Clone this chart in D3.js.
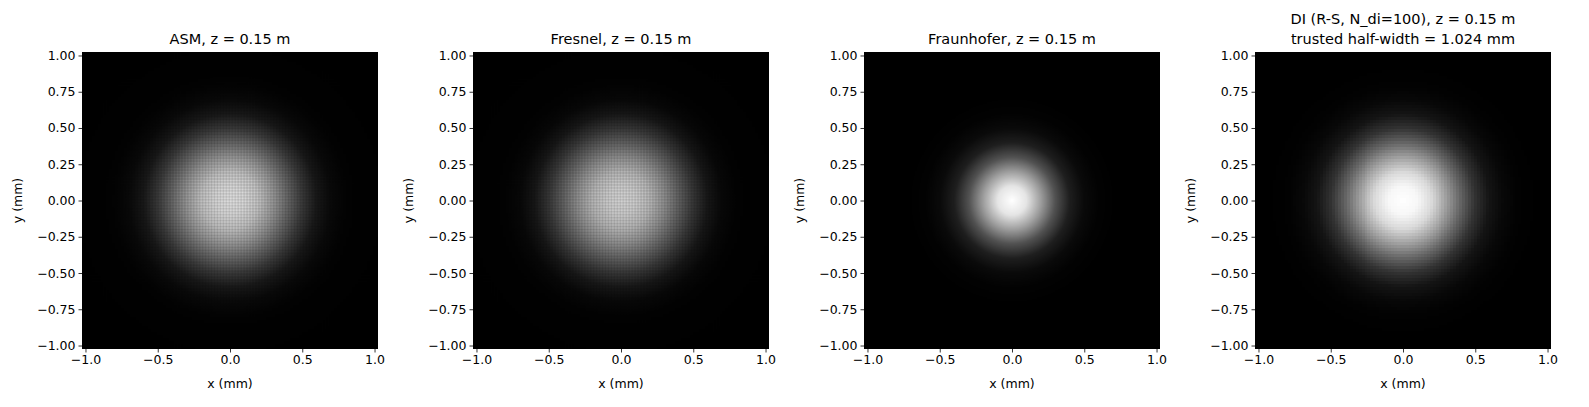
<!DOCTYPE html>
<html><head><meta charset="utf-8">
<script src="https://cdn.jsdelivr.net/npm/d3@7"></script>
<style>html,body{margin:0;background:#fff;overflow:hidden}text{font-family:"DejaVu Sans",sans-serif;fill:#000}</style>
</head><body><svg id="c" width="1589" height="407" style="display:block"></svg>
<script>
const titles = [["ASM, z = 0.15 m"],["Fresnel, z = 0.15 m"],["Fraunhofer, z = 0.15 m"],["DI (R-S, N_di=100), z = 0.15 m","trusted half-width = 1.024 mm"]];
const profileR = [0,0.1,0.2,0.3,0.4,0.5,0.6,0.7,0.8,0.9,1.5];
const profileASM = [0.80,0.77,0.69,0.54,0.37,0.21,0.09,0.035,0.012,0.003,0];
const profileFresnel = [0.76,0.73,0.65,0.51,0.35,0.2,0.085,0.03,0.01,0.003,0];
const profileFraun = [1,0.9,0.62,0.32,0.12,0.04,0.01,0.002,0,0,0];
const profileDI = [1,0.97,0.85,0.63,0.40,0.20,0.08,0.03,0.008,0.002,0];
const profiles = [profileASM, profileFresnel, profileFraun, profileDI];
const gridN = [200, 200, 256, 100];
const textureAmp = [0.22, 0.22, 0, 0];
const halfWidth = 1.024;
const xTicks = [-1.0,-0.5,0.0,0.5,1.0];
const yTicks = [-1.0,-0.75,-0.5,-0.25,0,0.25,0.5,0.75,1.0];

(function(){
const svg = d3.select("#c");
const lefts = [82,473,864,1255], T = 52, W = 296, H = 297;
lefts.forEach((L,i)=>{
  const x = d3.scaleLinear().domain([-halfWidth,halfWidth]).range([L,L+W]);
  const y = d3.scaleLinear().domain([-halfWidth,halfWidth]).range([T+H,T]);
  const prof = d3.scaleLinear().domain(profileR).range(profiles[i]).clamp(true);
  const N = gridN[i];
  const cv = document.createElement("canvas"); cv.width=N; cv.height=N;
  const ctx = cv.getContext("2d"); const img = ctx.createImageData(N,N);
  const cell = d3.scaleLinear().domain([0,N-1]).range([-halfWidth,halfWidth]);
  for(let r=0;r<N;r++)for(let c=0;c<N;c++){
    const xv=cell(c), yv=cell(r);
    let v = prof(Math.hypot(xv,yv));
    if(textureAmp[i]>0){ const m=((r%2)+(c%2)); v*= (1 - textureAmp[i]*m/2); v/=(1-textureAmp[i]/2);}
    v=Math.max(0,Math.min(1,v));
    const k=(r*N+c)*4, g=Math.round(v*255);
    img.data[k]=img.data[k+1]=img.data[k+2]=g; img.data[k+3]=255;
  }
  ctx.putImageData(img,0,0);
  svg.append("image").attr("href",cv.toDataURL()).attr("x",x(-halfWidth)).attr("y",y(halfWidth))
    .attr("width",W).attr("height",H).attr("preserveAspectRatio","none")
    .style("image-rendering", N<150?"pixelated":"auto");
  const ax = svg.append("g").attr("transform",`translate(0,${T+H})`)
    .call(d3.axisBottom(x).tickValues(xTicks).tickFormat(d=>d.toFixed(1).replace("-","\u2212")).tickSize(3.5).tickPadding(3));
  const ay = svg.append("g").attr("transform",`translate(${L},0)`)
    .call(d3.axisLeft(y).tickValues(yTicks).tickFormat(d=>d.toFixed(2).replace("-","\u2212")).tickSize(3.5).tickPadding(3));
  [ax,ay].forEach(a=>{a.select(".domain").remove();a.selectAll("text").style("font-size","12.5px").style("font-family","DejaVu Sans");a.selectAll("line").attr("stroke","#000").attr("stroke-width",0.8);});
  svg.append("text").attr("x",L+W/2).attr("y",388).attr("text-anchor","middle").style("font-size","12.5px").text("x (mm)");
  svg.append("text").attr("transform",`translate(${L-60},${T+H/2}) rotate(-90)`).attr("text-anchor","middle").style("font-size","12.5px").text("y (mm)");
  const t = titles[i];
  t.forEach((s,j)=>svg.append("text").attr("x",L+W/2).attr("y",t.length===1?44:(24+j*20)).attr("text-anchor","middle").style("font-size","14.5px").text(s));
});
})();
</script></body></html>
